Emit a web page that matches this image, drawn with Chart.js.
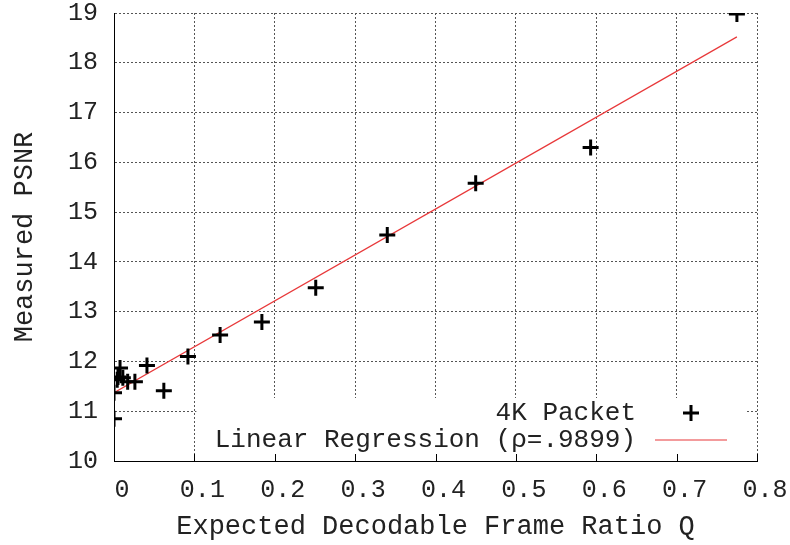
<!DOCTYPE html>
<html>
<head>
<meta charset="utf-8">
<script src="https://cdn.jsdelivr.net/npm/chart.js@4/dist/chart.umd.min.js"></script>
<style>
  html, body { margin: 0; padding: 0; background: #fff; }
  canvas { display: block; }
</style>
</head>
<body>
<canvas id="psnrChart" width="790" height="545"></canvas>
<script>
// measured points (expected decodable frame ratio vs PSNR)
const frameRatio = [0.775, 0.593, 0.450, 0.340, 0.251, 0.184, 0.132, 0.092, 0.041, 0.062,
                    0.026, 0.017, 0.011, 0.0075, 0.005, 0.004, 0.0, 0.0];
const measuredPsnr = [18.98, 16.30, 15.58, 14.54, 13.48, 12.79, 12.53, 12.10, 11.92, 11.41,
                      11.59, 11.59, 11.67, 11.87, 11.69, 11.63, 11.37, 10.85];

// end points of the fitted line
const fitX = [0, 0.775];
const fitY = [11.37, 18.52];

const xTicks = [0, 0.1, 0.2, 0.3, 0.4, 0.5, 0.6, 0.7, 0.8];
const yTicks = [10, 11, 12, 13, 14, 15, 16, 17, 18, 19];

const MONO = "'Liberation Mono', 'DejaVu Sans Mono', monospace";
const TEXT = '#222';
const gridStyle = { color: '#555', lineWidth: 1, drawTicks: false };

// gnuplot style key: text right aligned, sample on the right, opaque box
const keyBox = {
    id: 'keyBox',
    beforeDatasetsDraw(chart) {
        const { ctx, chartArea: a, scales } = chart;
        const left = scales.x.getPixelForValue(0.1) + 2;
        const right = a.right - 12;
        const bottom = a.bottom - 1;
        const top = bottom - 62;

        ctx.save();
        ctx.fillStyle = '#fff';
        ctx.fillRect(left, top, right - left, bottom - top);

        // inward tick marks on the bottom axis
        ctx.strokeStyle = '#000';
        ctx.lineWidth = 1;
        scales.x.ticks.forEach(t => {
            const px = Math.round(scales.x.getPixelForValue(t.value)) + 0.5;
            ctx.beginPath();
            ctx.moveTo(px, a.bottom);
            ctx.lineTo(px, a.bottom - 7);
            ctx.stroke();
        });

        ctx.font = '26px ' + MONO;
        ctx.fillStyle = TEXT;
        ctx.textAlign = 'right';
        ctx.textBaseline = 'middle';
        const textRight = right - 109;
        const sx0 = right - 90, sx1 = right - 18;
        const rows = [top + 15, top + 42];

        chart.data.datasets.forEach((ds, i) => {
            const y = rows[i];
            ctx.fillText(ds.label, textRight, y);
            if (ds.showLine) {
                ctx.strokeStyle = ds.borderColor;
                ctx.lineWidth = 1.2;
                ctx.beginPath();
                ctx.moveTo(sx0, y);
                ctx.lineTo(sx1, y);
                ctx.stroke();
            } else {
                const cx = (sx0 + sx1) / 2, r = 8;
                ctx.strokeStyle = ds.borderColor;
                ctx.lineWidth = 3;
                ctx.beginPath();
                ctx.moveTo(cx - r, y); ctx.lineTo(cx + r, y);
                ctx.moveTo(cx, y - r); ctx.lineTo(cx, y + r);
                ctx.stroke();
            }
        });
        ctx.restore();
    }
};

new Chart(document.getElementById('psnrChart'), {
    type: 'scatter',
    data: {
        datasets: [
            {
                label: '4K Packet',
                data: frameRatio.map((q, i) => ({ x: q, y: measuredPsnr[i] })),
                showLine: false,
                pointStyle: 'cross',
                pointRadius: 8,
                pointHoverRadius: 8,
                borderColor: '#000',
                backgroundColor: '#000',
                borderWidth: 3,
                order: 0
            },
            {
                label: 'Linear Regression (\u03c1=.9899)',
                data: fitX.map((q, i) => ({ x: q, y: fitY[i] })),
                showLine: true,
                borderColor: '#e8383a',
                borderWidth: 1.2,
                pointRadius: 0,
                pointHoverRadius: 0,
                fill: false,
                order: 1
            }
        ]
    },
    options: {
        responsive: false,
        animation: false,
        events: [],
        layout: { padding: { left: 0, top: 13, right: 33, bottom: 0 } },
        plugins: {
            legend: { display: false },
            tooltip: { enabled: false }
        },
        scales: {
            x: {
                type: 'linear',
                min: xTicks[0],
                max: xTicks[xTicks.length - 1],
                afterBuildTicks: s => { s.ticks = xTicks.map(v => ({ value: v })); },
                afterFit: s => { s.height = 84; s.paddingLeft = 0; s.paddingRight = 0; },
                grid: { ...gridStyle },
                border: { display: true, color: '#000', width: 1, dash: [2, 2] },
                ticks: {
                    padding: 14,
                    labelOffset: 8,
                    maxRotation: 0,
                    autoSkip: false,
                    color: TEXT,
                    font: { family: MONO, size: 25 },
                    callback: v => String(v)
                },
                title: {
                    display: true,
                    text: 'Expected Decodable Frame Ratio Q',
                    color: TEXT,
                    font: { family: MONO, size: 27 },
                    padding: { top: 0, bottom: 2 }
                }
            },
            y: {
                min: yTicks[0],
                max: yTicks[yTicks.length - 1],
                afterBuildTicks: s => { s.ticks = yTicks.map(v => ({ value: v })); },
                afterFit: s => { s.width = 114; s.paddingTop = 0; s.paddingBottom = 0; },
                grid: { ...gridStyle },
                border: { display: true, color: '#000', width: 1, dash: [2, 2] },
                ticks: {
                    padding: 16,
                    autoSkip: false,
                    color: TEXT,
                    font: { family: MONO, size: 25 },
                    callback: v => String(v)
                },
                title: {
                    display: true,
                    text: 'Measured PSNR',
                    color: TEXT,
                    font: { family: MONO, size: 27 },
                    padding: { top: 9, bottom: 0 }
                }
            }
        }
    },
    plugins: [keyBox]
});
</script>
</body>
</html>
